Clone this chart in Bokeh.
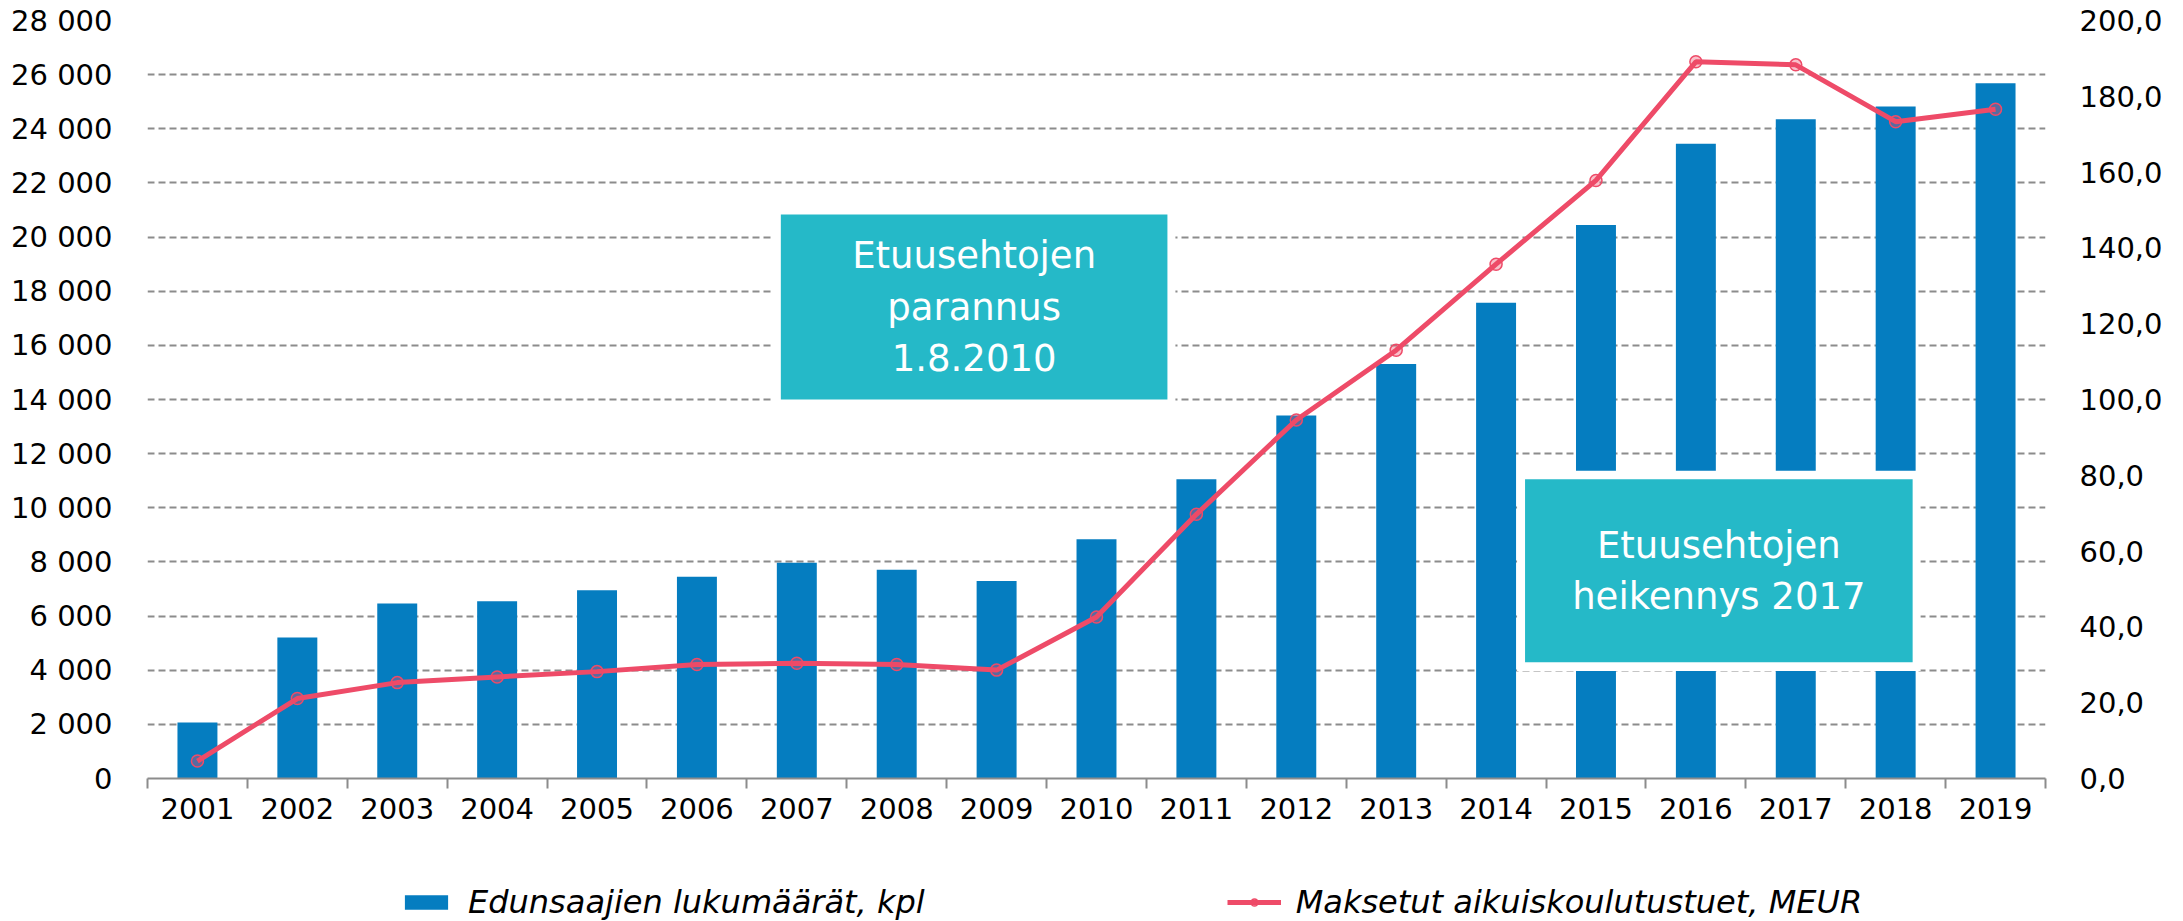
from bokeh.plotting import figure
from bokeh.layouts import column
from bokeh.models import Range1d, LinearAxis, FixedTicker, Legend, LegendItem
from bokeh.core.properties import value
from bokeh.embed import file_html
from bokeh.resources import INLINE

# ---------------- data ----------------
years = ["2001", "2002", "2003", "2004", "2005", "2006", "2007", "2008", "2009", "2010",
         "2011", "2012", "2013", "2014", "2015", "2016", "2017", "2018", "2019"]
recipients = [2070, 5210, 6460, 6550, 6950, 7450, 7970, 7710, 7300, 8840,
              11050, 13410, 15310, 17570, 20450, 23450, 24350, 24820, 25680]
payments_meur = [4.6, 21.1, 25.3, 26.8, 28.2, 30.1, 30.4, 30.1, 28.6, 42.6,
                 69.7, 94.6, 113.0, 135.7, 157.8, 189.1, 188.3, 173.3, 176.6]

left_ticks = [0, 2000, 4000, 6000, 8000, 10000, 12000, 14000, 16000, 18000,
              20000, 22000, 24000, 26000, 28000]
left_tick_labels = ["0", "2 000", "4 000", "6 000", "8 000", "10 000", "12 000", "14 000",
                    "16 000", "18 000", "20 000", "22 000", "24 000", "26 000", "28 000"]
right_ticks = [0, 20, 40, 60, 80, 100, 120, 140, 160, 180, 200]
right_tick_labels = ["0,0", "20,0", "40,0", "60,0", "80,0", "100,0", "120,0", "140,0",
                     "160,0", "180,0", "200,0"]

series_names = ["Edunsaajien lukumäärät, kpl", "Maksetut aikuiskoulutustuet, MEUR"]
note_texts = ["Etuusehtojen\nparannus\n1.8.2010", "Etuusehtojen\nheikennys 2017"]

# ---------------- styles ----------------
FONT = "DejaVu Sans"
BAR = "#057DC0"
LINE = "#EE4B68"
BOX = "#25B9C8"
GRID = "#8C8C8C"

n = len(years)
xs = list(range(n))

p = figure(width=2183, height=860,
           x_range=Range1d(-0.5, n - 0.5), y_range=Range1d(0, 28000),
           output_backend="svg", toolbar_location=None,
           min_border_left=147, min_border_right=138,
           min_border_top=20, min_border_bottom=82)
p.extra_y_ranges = {"meur": Range1d(0, 200)}
p.outline_line_color = None

# grid
p.xgrid.visible = False
p.ygrid[0].ticker = FixedTicker(ticks=left_ticks)
p.ygrid[0].grid_line_color = GRID
p.ygrid[0].grid_line_width = 2
p.ygrid[0].grid_line_dash = "7 4"

# left axis
ya = p.yaxis[0]
ya.ticker = FixedTicker(ticks=left_ticks)
ya.major_label_overrides = {t: s for t, s in zip(left_ticks, left_tick_labels)}
ya.axis_line_color = None
ya.major_tick_line_color = None
ya.minor_tick_line_color = None
ya.major_label_standoff = 29
ya.major_label_text_font = FONT
ya.major_label_text_font_size = "29px"
ya.major_label_text_color = "black"

# right axis
ra = LinearAxis(y_range_name="meur", ticker=FixedTicker(ticks=right_ticks))
ra.major_label_overrides = {t: s for t, s in zip(right_ticks, right_tick_labels)}
ra.axis_line_color = None
ra.major_tick_line_color = None
ra.minor_tick_line_color = None
ra.major_label_standoff = 28
ra.major_label_text_font = FONT
ra.major_label_text_font_size = "29px"
ra.major_label_text_color = "black"
p.add_layout(ra, "right")

# x axis: labels at category centres, ticks at category boundaries (minor ticks)
xa = p.xaxis[0]
xa.ticker = FixedTicker(ticks=xs, minor_ticks=[i - 0.5 for i in range(n + 1)])
xa.major_label_overrides = {i: y for i, y in zip(xs, years)}
xa.major_tick_line_color = None
xa.major_tick_in = 0
xa.major_tick_out = 10
xa.minor_tick_in = 0
xa.minor_tick_out = 10
xa.minor_tick_line_color = GRID
xa.minor_tick_line_width = 2
xa.axis_line_color = GRID
xa.axis_line_width = 2
xa.major_label_standoff = 9
xa.major_label_text_font = FONT
xa.major_label_text_font_size = "29px"
xa.major_label_text_color = "black"

# bars
bars = p.vbar(x=xs, top=recipients, width=0.4, fill_color=BAR, line_color=None)

# annotation boxes
b1 = dict(l=5.84, r=9.71, b=14000, t=20830)
b2 = dict(l=13.29, r=17.17, b=4290, t=11050)
mx, my = 0.08, 320
for b in (b1, b2):
    p.quad(left=[b["l"] - mx], right=[b["r"] + mx], bottom=[b["b"] - my], top=[b["t"] + my],
           fill_color="white", line_color=None)
    p.quad(left=[b["l"]], right=[b["r"]], bottom=[b["b"]], top=[b["t"]],
           fill_color=BOX, line_color=None)
p.text(x=[(b1["l"] + b1["r"]) / 2, (b2["l"] + b2["r"]) / 2],
       y=[(b1["b"] + b1["t"]) / 2, (b2["b"] + b2["t"]) / 2],
       text=note_texts, text_align="center", text_baseline="middle",
       text_font=value(FONT), text_font_size="37px", text_color="white",
       text_line_height=1.2)

# line
ln = p.line(x=xs, y=payments_meur, y_range_name="meur", line_color=LINE, line_width=5)
sc = p.scatter(x=xs, y=payments_meur, y_range_name="meur", marker="circle", size=12,
               line_color=LINE, line_width=1.5, fill_color=LINE, fill_alpha=0.35)

# ---------------- legend strip ----------------
lf = figure(width=2183, height=61, x_range=Range1d(0, 1), y_range=Range1d(0, 1),
            output_backend="svg", toolbar_location=None, min_border=0)
lf.axis.visible = False
lf.grid.visible = False
lf.outline_line_color = None
# off-range proxies so the legend has glyphs to draw
lb = lf.vbar(x=[-5], top=[-5], bottom=[-6], width=0.4, fill_color=BAR, line_color=None)
ll = lf.line(x=[-5, -4], y=[-5, -5], line_color=LINE, line_width=5)
ls = lf.scatter(x=[-5], y=[-5], marker="circle", size=12, line_color=LINE, line_width=1.5,
                fill_color=LINE, fill_alpha=0.35)
legend = Legend(items=[LegendItem(label=series_names[0], renderers=[lb]),
                       LegendItem(label=series_names[1], renderers=[ll, ls])],
                orientation="horizontal", location=(252, 0),
                glyph_width=54, glyph_height=18, label_standoff=15, spacing=302,
                padding=0, margin=0, border_line_color=None, background_fill_alpha=0,
                label_text_font=FONT, label_text_font_size="32px",
                label_text_font_style="italic", label_text_color="black")
lf.add_layout(legend)

layout = column(p, lf, spacing=0)
open("out.html", "w").write(file_html(layout, INLINE))
